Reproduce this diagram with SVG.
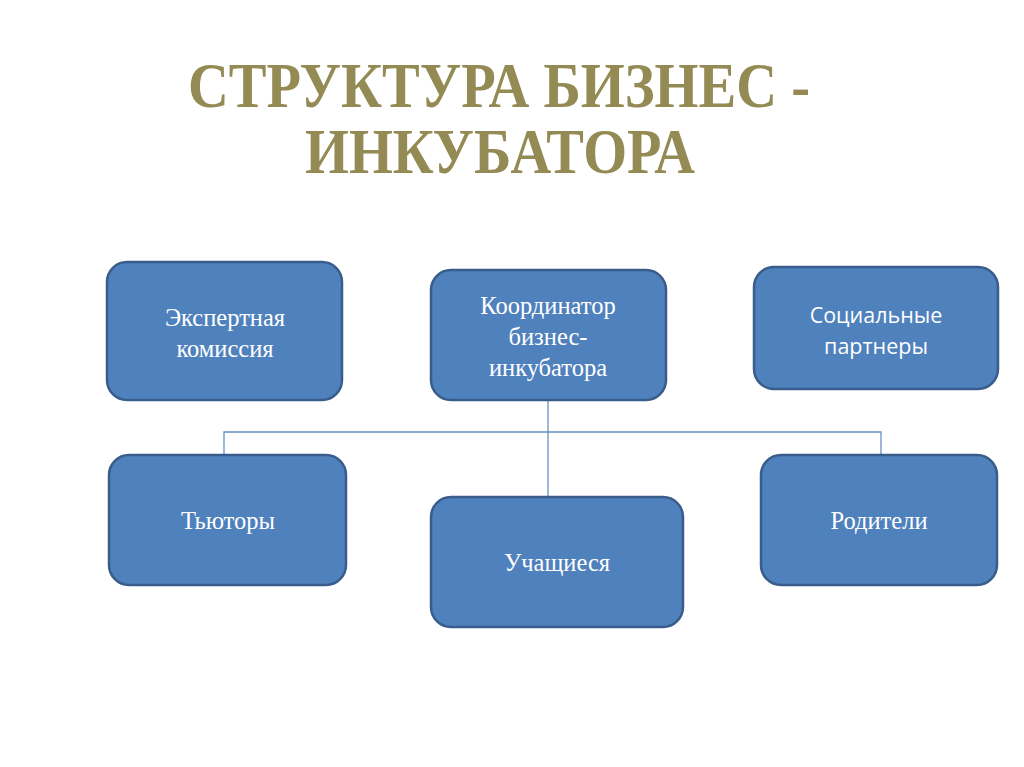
<svg xmlns="http://www.w3.org/2000/svg" width="1024" height="767" viewBox="0 0 1024 767">
<style>
.box{fill:#4F81BD;stroke:#385D8A;stroke-width:2.5}
.t{font-family:"Liberation Serif","Times New Roman",serif;font-size:24.5px;fill:#FFFFFF;text-anchor:middle}
.s{font-family:"Open Sans","Liberation Sans",sans-serif;font-size:21.5px;fill:#FFFFFF;text-anchor:middle}
.title{font-family:"Liberation Serif","Times New Roman",serif;font-weight:bold;font-size:63px;fill:#948A54;text-anchor:middle}
.c{fill:none;stroke:#6A8FC4;stroke-width:1.3}
</style>
<rect width="1024" height="767" fill="#FFFFFF"/>
<g id="title">
<text class="title" x="499" y="107" textLength="622" lengthAdjust="spacingAndGlyphs">СТРУКТУРА БИЗНЕС -</text>
<text class="title" x="500" y="173" textLength="390" lengthAdjust="spacingAndGlyphs">ИНКУБАТОРА</text>
</g>
<g id="connectors">
<path class="c" d="M548 400 V497"/>
<path class="c" d="M224 455 V432 H881 V455"/>
</g>
<g id="expert">
<rect class="box" x="107" y="262" width="235" height="138" rx="20"/>
<text class="t" x="225" y="326">Экспертная</text>
<text class="t" x="225" y="357">комиссия</text>
</g>
<g id="coordinator">
<rect class="box" x="431" y="270" width="235" height="130" rx="20"/>
<text class="t" x="548" y="314">Координатор</text>
<text class="t" x="548" y="345">бизнес-</text>
<text class="t" x="548" y="376">инкубатора</text>
</g>
<g id="partners">
<rect class="box" x="754" y="267" width="244" height="122" rx="20"/>
<text class="s" x="876" y="323">Социальные</text>
<text class="s" x="876" y="354">партнеры</text>
</g>
<g id="tutors">
<rect class="box" x="109" y="455" width="237" height="130" rx="20"/>
<text class="t" x="228" y="529">Тьюторы</text>
</g>
<g id="students">
<rect class="box" x="431" y="497" width="252" height="130" rx="20"/>
<text class="t" x="557" y="571">Учащиеся</text>
</g>
<g id="parents">
<rect class="box" x="761" y="455" width="236" height="130" rx="20"/>
<text class="t" x="879" y="529">Родители</text>
</g>
</svg>
